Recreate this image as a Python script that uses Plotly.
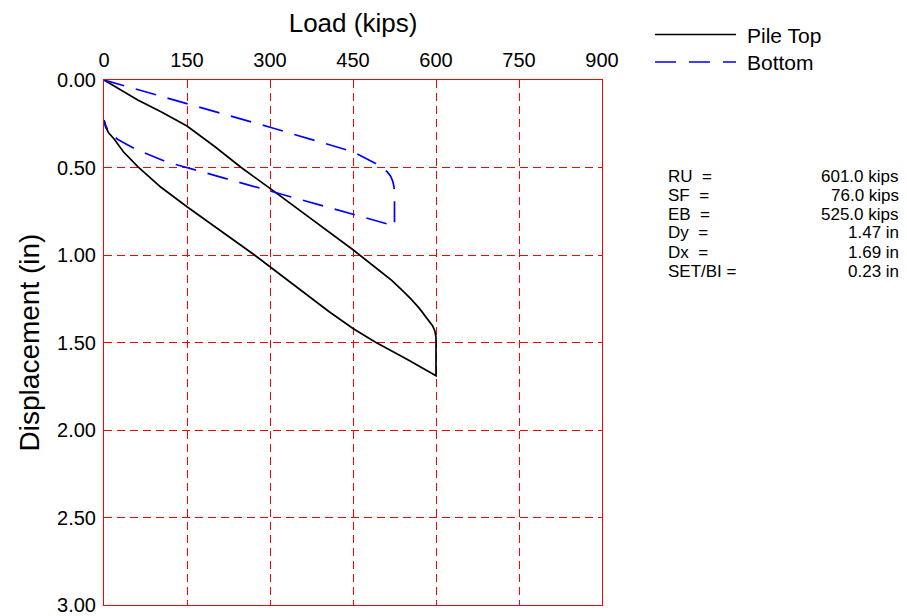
import plotly.graph_objects as go

# ---- data ----
top_load = [0, 61, 103, 150, 200, 248, 308, 400, 450, 498, 520, 540, 555, 570, 580, 588, 594, 598, 600, 600,
            550, 490, 470, 450, 407, 300, 272, 150, 103, 61, 35, 19, 8, 3, 0]
top_disp = [0, 0.114, 0.181, 0.263, 0.38, 0.5, 0.638, 0.855, 0.97, 1.09, 1.145, 1.205, 1.252, 1.305, 1.345, 1.375, 1.405, 1.435, 1.47, 1.69,
            1.60, 1.497, 1.46, 1.42, 1.324, 1.063, 1.0, 0.724, 0.613, 0.495, 0.41, 0.34, 0.30, 0.27, 0.23]

bot_load = [0, 150, 300, 450, 465, 490, 501, 512, 518, 522, 524, 525, 525,
            498, 486, 450, 308, 227, 150, 112, 76, 58, 25, 10, 4, 0]
bot_disp = [0, 0.133, 0.27, 0.41, 0.434, 0.475, 0.499, 0.525, 0.55, 0.58, 0.61, 0.64, 0.834,
            0.81, 0.80, 0.766, 0.644, 0.571, 0.5, 0.467, 0.42, 0.396, 0.34, 0.30, 0.267, 0.229]

x_ticks = [0, 150, 300, 450, 600, 750, 900]
y_ticks = [0, 0.5, 1.0, 1.5, 2.0, 2.5, 3.0]
y_tick_text = ["0.00", "0.50", "1.00", "1.50", "2.00", "2.50", "3.00"]

stat_labels = ["RU  =", "SF  =", "EB  =", "Dy  =", "Dx  =", "SET/BI ="]
stat_values = ["601.0 kips", "76.0 kips", "525.0 kips", "1.47 in", "1.69 in", "0.23 in"]

# ---- layout geometry (page pixels; the page body adds an 8px offset) ----
W, H = 907, 616
OFF = 8
PL, PR, PT, PB = 104, 602, 80, 605          # plot area in page pixels
L, T = PL - OFF, PT - OFF
R, B = W - (PR - OFF), H - (PB - OFF)
pw, ph = PR - PL, PB - PT

def px(x):
    return (x - PL) / pw

def py(y):
    return 1 - (y - PT) / ph

FONT = "Liberation Sans, Arial, sans-serif"
GRID_DASH = "8px,5px"

fig = go.Figure()
fig.add_trace(go.Scatter(x=top_load, y=top_disp, mode="lines", name="Pile Top",
                         line=dict(color="black", width=1.7), showlegend=False))
fig.add_trace(go.Scatter(x=bot_load, y=bot_disp, mode="lines", name="Bottom",
                         line=dict(color="#0000ff", width=1.7, dash="21px,12px"), showlegend=False))

fig.update_layout(
    width=W, height=H,
    margin=dict(l=L, r=R, t=T, b=B, autoexpand=False),
    paper_bgcolor="white", plot_bgcolor="white",
    font=dict(family=FONT, size=20, color="black"),
    xaxis=dict(side="top", range=[0, 900], tickvals=x_ticks, showline=True, mirror=True,
               linecolor="red", linewidth=1, showgrid=True, gridcolor="red", gridwidth=1,
               griddash=GRID_DASH, zeroline=False, ticks="", ticklabelstandoff=4, automargin=False,
               title=dict(text="Load (kips)", font=dict(size=26), standoff=10),
               tickfont=dict(size=20)),
    yaxis=dict(range=[3, 0], tickvals=y_ticks, ticktext=y_tick_text, showline=True, mirror=True,
               linecolor="red", linewidth=1, showgrid=True, gridcolor="red", gridwidth=1,
               griddash=GRID_DASH, zeroline=False, ticks="", ticklabelstandoff=3, automargin=False,
               title=dict(text="Displacement (in)", font=dict(size=28), standoff=9),
               tickfont=dict(size=20)),
)

# legend (drawn manually to match line sample length)
fig.add_shape(type="line", xref="paper", yref="paper", x0=px(655), x1=px(736), y0=py(34.5), y1=py(34.5),
              line=dict(color="black", width=1.6))
fig.add_shape(type="line", xref="paper", yref="paper", x0=px(655), x1=px(736), y0=py(62), y1=py(62),
              line=dict(color="#0000ff", width=1.6, dash="21px,13px"))
fig.add_annotation(xref="paper", yref="paper", x=px(745), y=py(35), text="Pile Top", showarrow=False,
                   xanchor="left", yanchor="middle", font=dict(size=21))
fig.add_annotation(xref="paper", yref="paper", x=px(745), y=py(62), text="Bottom", showarrow=False,
                   xanchor="left", yanchor="middle", font=dict(size=21))

row_y = [176, 195, 214, 233, 252, 271]
for lab, val, yy in zip(stat_labels, stat_values, row_y):
    fig.add_annotation(xref="paper", yref="paper", x=px(666), y=py(yy), text=lab, showarrow=False,
                       xanchor="left", yanchor="middle", font=dict(size=17))
    fig.add_annotation(xref="paper", yref="paper", x=px(901), y=py(yy), text=val, showarrow=False,
                       xanchor="right", yanchor="middle", font=dict(size=17))

fig.write_html("out.html")
